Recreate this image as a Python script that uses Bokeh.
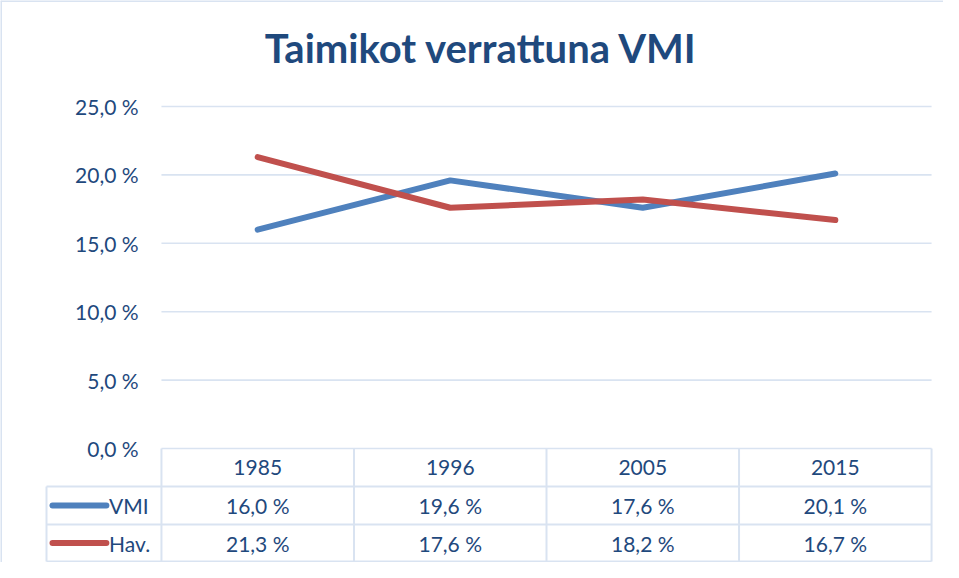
from bokeh.plotting import figure
from bokeh.models import ColumnDataSource, Span, Range1d
from bokeh.core.properties import value
from bokeh.embed import file_html
from bokeh.resources import INLINE

# ---- data ----
title = "Taimikot verrattuna VMI"
years = ["1985", "1996", "2005", "2015"]
vmi = [16.0, 19.6, 17.6, 20.1]
hav = [21.3, 17.6, 18.2, 16.7]
y_ticks = [0, 5, 10, 15, 20, 25]
series_names = ["VMI", "Hav."]

# ---- styles ----
colors = ["#4F81BD", "#C0504D"]
TXT = "#1F497D"
GRID = "#D9E3F1"
FONT = "Lato"
FS = "21px"


def fmt(v):
    return f"{v:.1f}".replace(".", ",") + " %"


W, H = 943, 562
X0, X1 = -1.336, 3.562
Y0, Y1 = -8.333, 32.75

p = figure(width=W, height=H, output_backend="svg", toolbar_location=None,
           x_range=Range1d(X0, X1), y_range=Range1d(Y0, Y1),
           x_axis_location=None, y_axis_location=None, min_border=0)
p.grid.visible = False
p.outline_line_color = None
p.background_fill_color = "white"
p.border_fill_color = "white"

# chart-area border (top and left)
p.add_layout(Span(location=Y1, dimension="width", line_color=GRID, line_width=3))
p.add_layout(Span(location=X0, dimension="height", line_color=GRID, line_width=3))

n = len(years)
xs = list(range(n))
left, right = -0.5, n - 0.5

# gridlines
p.segment(x0=[left] * len(y_ticks), x1=[right] * len(y_ticks), y0=y_ticks, y1=y_ticks,
          line_color=GRID, line_width=1.6)

# y tick labels
p.text(x=[-0.619] * len(y_ticks), y=y_ticks, text=[fmt(t) for t in y_ticks],
       text_font=value(FONT), text_font_size=FS, text_color=TXT,
       text_align="right", text_baseline="middle")

# data table geometry (data units)
row_hdr, row1, row2, row_end = 0, -2.78, -5.56, -8.26
leg_left = -1.097
bx = [left + i for i in range(n + 1)]
p.segment(x0=bx, x1=bx, y0=[row_hdr] * len(bx), y1=[row_end] * len(bx),
          line_color=GRID, line_width=2)
p.segment(x0=[leg_left], x1=[leg_left], y0=[row1], y1=[row_end],
          line_color=GRID, line_width=2)
p.segment(x0=[leg_left] * 3, x1=[right] * 3, y0=[row1, row2, row_end],
          y1=[row1, row2, row_end], line_color=GRID, line_width=2)

# header (years)
p.text(x=xs, y=[(row_hdr + row1) / 2] * n, text=years,
       text_font=value(FONT), text_font_size=FS, text_color=TXT,
       text_align="center", text_baseline="middle")

# series rows
for k, (name, vals) in enumerate(zip(series_names, [vmi, hav])):
    yc = [(row1 + row2) / 2, (row2 + row_end) / 2][k]
    p.text(x=xs, y=[yc] * n, text=[fmt(v) for v in vals],
           text_font=value(FONT), text_font_size=FS, text_color=TXT,
           text_align="center", text_baseline="middle")
    p.line(x=[-1.066, -0.786], y=[yc, yc], line_color=colors[k], line_width=6,
           line_cap="round")
    p.text(x=[-0.772], y=[yc], text=[name],
           text_font=value(FONT), text_font_size=FS, text_color=TXT,
           text_align="left", text_baseline="middle")

# series lines
for k, vals in enumerate([vmi, hav]):
    src = ColumnDataSource(dict(x=xs, y=vals))
    p.line("x", "y", source=src, line_color=colors[k], line_width=6,
           line_cap="round", line_join="round")

# title
p.text(x=[(left + right) / 2 - 0.338], y=[29.31], text=[title],
       text_font=value(FONT), text_font_size="40px", text_font_style="bold",
       text_color=TXT, text_align="center", text_baseline="middle")

open("out.html", "w").write(file_html(p, INLINE))
